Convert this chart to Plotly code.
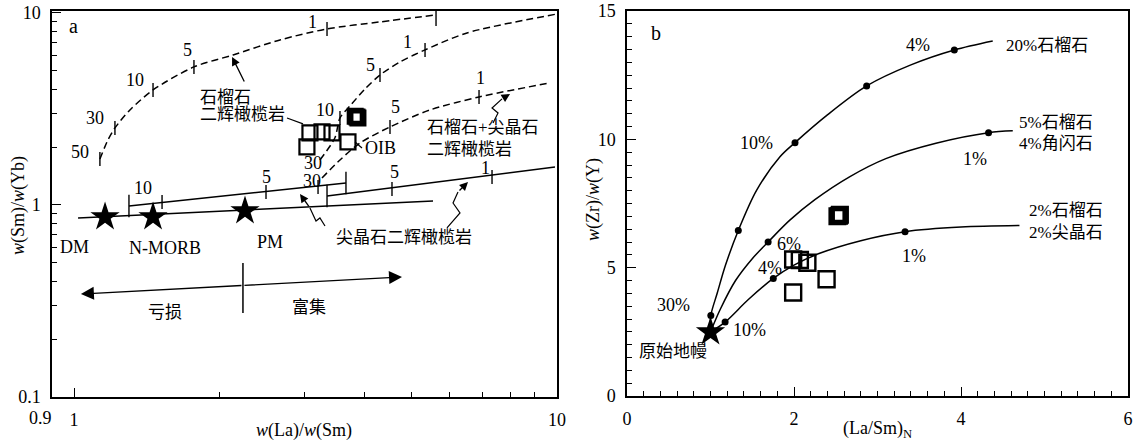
import numpy as np
import plotly.graph_objects as go

LAT = "Liberation Serif, DejaVu Serif, serif"
CJK = "Liberation Serif, Noto Sans CJK SC, sans-serif"
W, H = 1143, 441

# ---------------- Panel a : w(La)/w(Sm) vs w(Sm)/w(Yb) (log-log) ----------------
a_star_x = [1.159, 1.457, 2.259]
a_star_y = [0.866, 0.866, 0.931]
a_star_name = ["DM", "N-MORB", "PM"]
a_star_lab_x = [1.003, 1.543, 2.545]
a_star_lab_y = [0.604, 0.600, 0.642]

a_array_x = [1.019, 5.537]
a_array_y = [0.856, 1.049]

a_sp1_x = [1.299, 3.656]
a_sp1_y = [0.988, 1.302]
a_sp1_tick_x = [1.521, 2.497, 3.200]
a_sp1_tick_y = [1.037, 1.169, 1.241]

a_sp2_x = [3.340, 9.904]
a_sp2_y = [1.114, 1.578]
a_sp2_tick_x = [4.553, 7.336]
a_sp2_tick_y = [1.212, 1.399]

a_g1_x = [1.131, 1.175, 1.215, 1.305, 1.457, 1.771, 2.134, 2.669, 3.340, 4.300, 5.617]
a_g1_y = [1.736, 2.18, 2.518, 3.124, 3.972, 5.233, 6.043, 7.234, 8.254, 8.978, 9.763]
a_g1_tick_x = [1.131, 1.215, 1.457, 1.771, 3.340]
a_g1_tick_y = [1.736, 2.518, 3.972, 5.233, 8.254]

a_g2_x = [3.229, 3.467, 3.553, 3.727, 4.004, 4.300, 4.730, 5.330, 6.511, 9.95]
a_g2_y = [1.715, 2.233, 2.838, 3.279, 4.020, 4.754, 5.557, 6.417, 7.868, 9.85]
a_g2_tick_x = [3.553, 4.300, 5.330]
a_g2_tick_y = [2.838, 4.754, 6.417]

a_g3_x = [3.261, 3.553, 3.908, 4.510, 5.458, 6.895, 9.671]
a_g3_y = [1.382, 1.715, 2.103, 2.548, 3.124, 3.652, 4.320]
a_g3_tick_x = [4.510, 6.895]
a_g3_tick_y = [2.548, 3.652]

a_sq_x = [3.079, 3.261, 3.420, 3.035, 3.691]
a_sq_y = [2.371, 2.400, 2.371, 2.005, 2.129]
a_sqb_x = [3.853, 3.871, 3.820]
a_sqb_y = [2.873, 2.838, 2.900]

a_num_text = ["50", "30", "10", "5", "1", "10", "5", "1", "30", "30", "5", "1", "10", "5", "5", "1"]
a_num_x = [1.028, 1.105, 1.337, 1.721, 3.124, 3.308, 4.101, 4.914, 3.124, 3.109, 4.619, 6.928, 1.389, 2.497, 4.597, 7.095]
a_num_y = [1.888, 2.838, 4.478, 6.417, 8.978, 3.124, 5.36, 7.06, 1.655, 1.334, 3.24, 4.59, 1.226, 1.399, 1.485, 1.559]

a_cjk_text = ["石榴石", "二辉橄榄岩", "石榴石+尖晶石", "二辉橄榄岩"]
a_cjk_x = [1.805, 1.805, 5.33, 5.33]
a_cjk_y = [3.608, 2.943, 2.518, 1.934]
a_cjk_c_text = ["尖晶石二辉橄榄岩", "亏损", "富集"]
a_cjk_c_x = [4.822, 1.543, 3.065]
a_cjk_c_y = [0.673, 0.277, 0.294]

a_ptr_tail = (2.259, 4.320)
a_ptr_head = (2.124, 5.900)
a_lead1_x = [2.760, 2.979]
a_lead1_y = [2.838, 2.642]
a_lead2_x = [3.817, 3.946]
a_lead2_y = [2.129, 1.981]
a_oib = (3.965, 1.981)

a_sq1_x = [3.308, 3.229, 3.169, 3.079]
a_sq1_y = [0.777, 0.856, 0.825, 0.965]
a_sq1_tip = (2.936, 1.141)
a_sq2_x = [5.918, 6.297, 6.091, 6.237]
a_sq2_y = [0.759, 0.908, 1.024, 1.169]
a_sq2_tip = (6.542, 1.318)
a_sq3_x = [7.371, 7.549, 7.336, 7.694]
a_sq3_y = [2.673, 3.014, 3.201, 3.566]
a_sq3_tip = (7.991, 3.786)

a_arrow_mid = (2.237, 0.381)
a_arrow_left = (1.033, 0.344)
a_arrow_right = (4.776, 0.422)
a_div_x = [2.237, 2.237]
a_div_y = [0.499, 0.274]

# ---------------- Panel b : (La/Sm)N vs w(Zr)/w(Y) ----------------
b_star = (1.0, 2.49)

b_c1_x = [1.0, 1.004, 1.08, 1.18, 1.333, 1.553, 1.832, 2.012, 2.4, 2.87, 3.4, 3.92, 4.38]
b_c1_y = [2.5, 3.14, 4.0, 5.1, 6.45, 8.02, 9.32, 9.87, 10.95, 12.08, 12.9, 13.48, 13.83]
b_c1_dot_x = [1.004, 1.333, 2.012, 2.87, 3.92]
b_c1_dot_y = [3.14, 6.45, 9.87, 12.08, 13.48]

b_c2_x = [1.0, 1.12, 1.3, 1.5, 1.69, 1.95, 2.25, 2.67, 3.1, 3.7, 4.33, 4.62]
b_c2_y = [2.5, 3.4, 4.5, 5.35, 6.0, 6.85, 7.65, 8.55, 9.25, 9.85, 10.26, 10.33]
b_c2_dot_x = [1.69, 4.33]
b_c2_dot_y = [6.0, 10.26]

b_c3_x = [1.0, 1.175, 1.45, 1.752, 2.0, 2.3, 2.8, 3.33, 4.0, 4.70]
b_c3_y = [2.5, 2.88, 3.75, 4.58, 5.1, 5.55, 6.05, 6.40, 6.58, 6.64]
b_c3_dot_x = [1.175, 1.752, 3.33]
b_c3_dot_y = [2.88, 4.58, 6.40]

b_sq_x = [1.99, 2.07, 2.16, 2.39, 1.99]
b_sq_y = [5.32, 5.30, 5.19, 4.55, 4.03]
b_sqb_x = [2.52, 2.55, 2.54]
b_sqb_y = [7.00, 7.06, 7.02]

b_pct_text = ["4%", "10%", "30%", "1%", "6%", "4%", "10%", "1%"]
b_pct_x = [3.49, 1.553, 0.556, 4.17, 1.94, 1.71, 1.47, 3.44]
b_pct_y = [13.67, 9.87, 3.53, 9.22, 5.94, 5.0, 2.57, 5.45]

b_lab_text = ["20%石榴石", "5%石榴石", "4%角闪石", "2%石榴石", "2%尖晶石"]
b_lab_x = [4.51, 4.67, 4.67, 4.79, 4.79]
b_lab_y = [13.67, 10.65, 9.84, 7.21, 6.36]
b_pm_label = ("原始地幔", 0.556, 1.75)

# ---------------- figure ----------------
fig = go.Figure()
XA, YA, XB, YB = "x", "y", "x2", "y2"


def line(x, y, xa, ya, dash="solid", width=1.5):
    fig.add_trace(go.Scatter(x=x, y=y, mode="lines", xaxis=xa, yaxis=ya,
                             line=dict(color="black", width=width, dash=dash),
                             showlegend=False, hoverinfo="skip"))


def ticks(x, y, xa, ya, size=10, sym="line-ns"):
    fig.add_trace(go.Scatter(x=x, y=y, mode="markers", xaxis=xa, yaxis=ya,
                             marker=dict(symbol=sym, size=size, color="black",
                                         line=dict(width=1.4, color="black")),
                             showlegend=False, hoverinfo="skip"))


# panel a lines
line(a_array_x, a_array_y, XA, YA)
line(a_sp1_x, a_sp1_y, XA, YA)
line(a_sp2_x, a_sp2_y, XA, YA)
ticks(a_sp1_tick_x, a_sp1_tick_y, XA, YA, 10)
ticks(a_sp2_tick_x, a_sp2_tick_y, XA, YA, 10)
ticks(a_sp1_x, a_sp1_y, XA, YA, 16)
ticks(a_sp2_x[:1], a_sp2_y[:1], XA, YA, 16)
for gx, gy in [(a_g1_x, a_g1_y), (a_g2_x, a_g2_y), (a_g3_x, a_g3_y)]:
    fig.add_trace(go.Scatter(x=gx, y=gy, mode="lines", xaxis=XA, yaxis=YA,
                             line=dict(color="black", width=1.5, dash="7px,4px", shape="spline", smoothing=0.8),
                             showlegend=False, hoverinfo="skip"))
ticks(a_g1_tick_x, a_g1_tick_y, XA, YA, 10)
ticks(a_g1_x[-1:], a_g1_y[-1:], XA, YA, 16)
ticks(a_g2_tick_x, a_g2_tick_y, XA, YA, 10)
ticks(a_g3_tick_x, a_g3_tick_y, XA, YA, 10)

line(a_lead1_x, a_lead1_y, XA, YA, width=1.2)
line(a_lead2_x, a_lead2_y, XA, YA, width=1.2)
line(a_sq1_x, a_sq1_y, XA, YA, width=1.2)
line(a_sq2_x, a_sq2_y, XA, YA, width=1.2)
line(a_sq3_x, a_sq3_y, XA, YA, width=1.2)
line(a_div_x, a_div_y, XA, YA, width=1.5)

fig.add_trace(go.Scatter(x=a_sq_x, y=a_sq_y, mode="markers", xaxis=XA, yaxis=YA,
                         marker=dict(symbol="square-open", size=15, color="black", line=dict(width=2.2)),
                         showlegend=False, hoverinfo="skip"))
fig.add_trace(go.Scatter(x=a_sqb_x, y=a_sqb_y, mode="markers", xaxis=XA, yaxis=YA,
                         marker=dict(symbol="square-open", size=13, color="black", line=dict(width=4)),
                         showlegend=False, hoverinfo="skip"))
fig.add_trace(go.Scatter(x=a_star_x, y=a_star_y, mode="markers", xaxis=XA, yaxis=YA,
                         marker=dict(symbol="star", size=22, color="black"),
                         showlegend=False, hoverinfo="skip"))

# panel b
for cx, cy in [(b_c1_x, b_c1_y), (b_c2_x, b_c2_y), (b_c3_x, b_c3_y)]:
    fig.add_trace(go.Scatter(x=cx, y=cy, mode="lines", xaxis=XB, yaxis=YB,
                             line=dict(color="black", width=1.5, shape="spline", smoothing=0.9),
                             showlegend=False, hoverinfo="skip"))
fig.add_trace(go.Scatter(x=b_c1_dot_x + b_c2_dot_x + b_c3_dot_x,
                         y=b_c1_dot_y + b_c2_dot_y + b_c3_dot_y, mode="markers", xaxis=XB, yaxis=YB,
                         marker=dict(symbol="circle", size=7, color="black"),
                         showlegend=False, hoverinfo="skip"))
fig.add_trace(go.Scatter(x=b_sq_x, y=b_sq_y, mode="markers", xaxis=XB, yaxis=YB,
                         marker=dict(symbol="square-open", size=16, color="black", line=dict(width=2.4)),
                         showlegend=False, hoverinfo="skip"))
fig.add_trace(go.Scatter(x=b_sqb_x, y=b_sqb_y, mode="markers", xaxis=XB, yaxis=YB,
                         marker=dict(symbol="square-open", size=14, color="black", line=dict(width=4)),
                         showlegend=False, hoverinfo="skip"))
fig.add_trace(go.Scatter(x=[b_star[0]], y=[b_star[1]], mode="markers", xaxis=XB, yaxis=YB,
                         marker=dict(symbol="star", size=22, color="black"),
                         showlegend=False, hoverinfo="skip"))

ann = []
L = np.log10


def ta(text, x, y, xa, ya, font=LAT, size=18, xanchor="center", log=False):
    if log:
        x, y = L(x), L(y)
    ann.append(dict(text=text, x=x, y=y, xref=xa, yref=ya, showarrow=False,
                    xanchor=xanchor, yanchor="middle", font=dict(family=font, size=size, color="black")))


def arrow(tail, head, xa, ya, log=False, size=1.3):
    tx, ty = tail
    hx, hy = head
    if log:
        tx, ty, hx, hy = L(tx), L(ty), L(hx), L(hy)
    ann.append(dict(text="", x=hx, y=hy, ax=tx, ay=ty, xref=xa, yref=ya, axref=xa, ayref=ya,
                    showarrow=True, arrowhead=2, arrowsize=size, arrowwidth=1.3, arrowcolor="black"))


for t, x, y in zip(a_num_text, a_num_x, a_num_y):
    ta(t, x, y, XA, YA, log=True)
for t, x, y in zip(a_star_name, a_star_lab_x, a_star_lab_y):
    ta(t, x, y, XA, YA, log=True)
for t, x, y in zip(a_cjk_text, a_cjk_x, a_cjk_y):
    ta(t, x, y, XA, YA, font=CJK, size=17, xanchor="left", log=True)
for t, x, y in zip(a_cjk_c_text, a_cjk_c_x, a_cjk_c_y):
    ta(t, x, y, XA, YA, font=CJK, size=17, log=True)
ta("OIB", a_oib[0], a_oib[1], XA, YA, xanchor="left", log=True)
ta("a", 0.995, 8.56, XA, YA, size=20, log=True)

arrow(a_ptr_tail, a_ptr_head, XA, YA, log=True)
arrow((a_sq1_x[-1], a_sq1_y[-1]), a_sq1_tip, XA, YA, log=True)
arrow((a_sq2_x[-1], a_sq2_y[-1]), a_sq2_tip, XA, YA, log=True)
arrow((a_sq3_x[-1], a_sq3_y[-1]), a_sq3_tip, XA, YA, log=True)
arrow(a_arrow_mid, a_arrow_left, XA, YA, log=True, size=2.0)
arrow(a_arrow_mid, a_arrow_right, XA, YA, log=True, size=2.0)

for t, x, y in zip(b_pct_text, b_pct_x, b_pct_y):
    ta(t, x, y, XB, YB)
for t, x, y in zip(b_lab_text, b_lab_x, b_lab_y):
    ta(t, x, y, XB, YB, font=CJK, size=17, xanchor="left")
ta(b_pm_label[0], b_pm_label[1], b_pm_label[2], XB, YB, font=CJK, size=17)
ta("b", 0.35, 14.14, XB, YB, size=20)


def pa(text, px, py, angle=0, size=18):
    ann.append(dict(text=text, x=px / W, y=1 - py / H, xref="paper", yref="paper", showarrow=False,
                    textangle=angle, xanchor="center", yanchor="middle",
                    font=dict(family=LAT, size=size, color="black")))


pa("<i>w</i>(Sm)/<i>w</i>(Yb)", 19, 206, -90)
pa("<i>w</i>(La)/<i>w</i>(Sm)", 304, 430)
pa("<i>w</i>(Zr)/<i>w</i>(Y)", 593, 200, -90)
pa("(La/Sm)<sub>N</sub>", 877, 429)
pa("0.9", 40, 418)

ax_common = dict(showline=True, mirror=True, linecolor="black", linewidth=1.5, ticks="inside",
                 tickcolor="black", tickwidth=1.3, showgrid=False, zeroline=False, automargin=False,
                 tickfont=dict(family=LAT, size=18, color="black"))

y0, y1 = 1 - 397 / H, 1 - 11 / H
fig.update_layout(
    template="none",
    width=W, height=H, margin=dict(l=0, r=0, t=0, b=0, pad=0), autosize=False,
    paper_bgcolor="white", plot_bgcolor="white", showlegend=False,
    annotations=ann,
    xaxis=dict(ax_common, type="log", range=[L(0.9), 1.0], domain=[52 / W, 557 / W], anchor="y",
               tickmode="array", tickvals=[1, 10], ticktext=["1", "10"], ticklen=9, ticklabelstandoff=6,
               minor=dict(tickmode="array", tickvals=[2, 3, 4, 5, 6, 7, 8, 9], ticks="inside", ticklen=5,
                          tickcolor="black", tickwidth=1.2)),
    yaxis=dict(ax_common, type="log", range=[-1, 1.01], domain=[y0, y1], anchor="x",
               tickmode="array", tickvals=[0.1, 1, 10], ticktext=["0.1", "1", "10"], ticklen=9,
               ticklabelstandoff=6,
               minor=dict(tickmode="array", tickvals=[0.2, 0.3, 0.4, 0.5, 0.6, 0.7, 0.8, 0.9,
                                                       2, 3, 4, 5, 6, 7, 8, 9],
                          ticks="inside", ticklen=5, tickcolor="black", tickwidth=1.2)),
    xaxis2=dict(ax_common, range=[0, 6], domain=[627 / W, 1128 / W], anchor="y2",
                tickmode="array", tickvals=[0, 2, 4, 6], ticklen=9, ticklabelstandoff=6,
                minor=dict(dtick=0.2, ticks="inside", ticklen=5, tickcolor="black", tickwidth=1.2)),
    yaxis2=dict(ax_common, range=[0, 15], domain=[1 - 396 / H, y1], anchor="x2",
                tickmode="array", tickvals=[0, 5, 10, 15], ticklen=9, ticklabelstandoff=6,
                minor=dict(dtick=0.5, ticks="inside", ticklen=5, tickcolor="black", tickwidth=1.2)),
)

fig.write_html(
    "out.html",
    config={"displayModeBar": False},
    post_script="document.body.style.margin='0px';document.body.style.padding='0px';"
                "document.body.style.overflow='hidden';",
)
